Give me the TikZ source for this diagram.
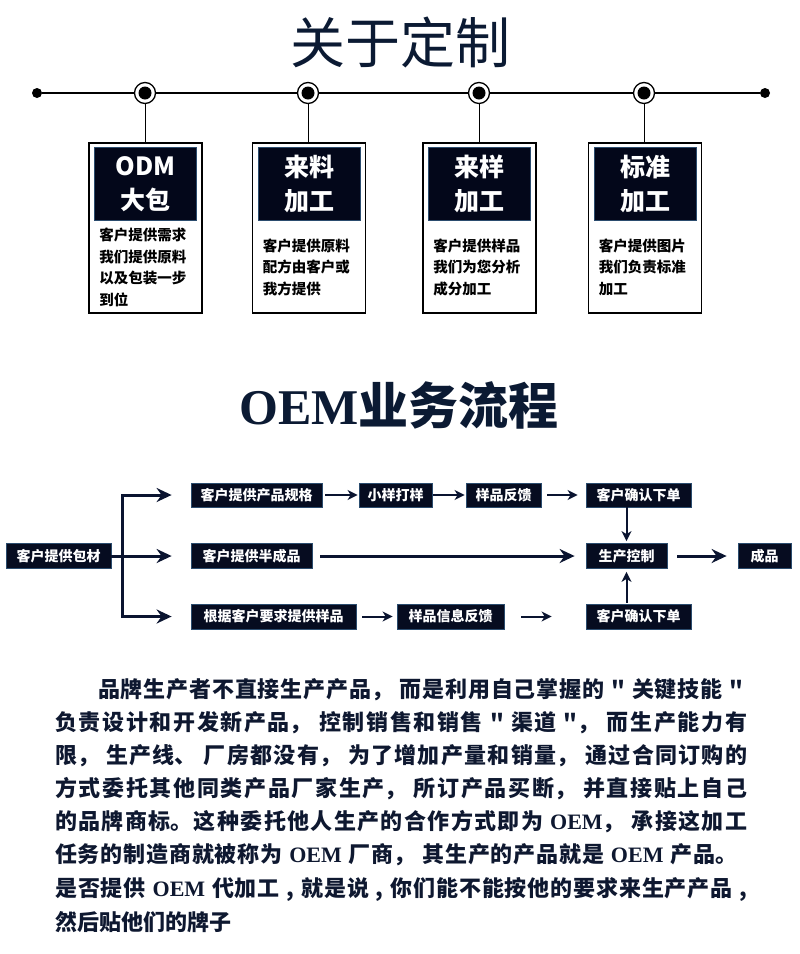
\documentclass[tikz,border=0pt]{standalone}
\usepackage{fontspec}
\setmainfont{Liberation Serif}
\newfontfamily\cjk{Noto Sans CJK SC}
\usetikzlibrary{positioning, arrows.meta, calc}

\definecolor{titlenavy}{HTML}{0B1A33}
\definecolor{headnavy}{HTML}{03071A}
\definecolor{boxnavy}{HTML}{060C20}
\definecolor{boxedge}{HTML}{2B4C6E}
\definecolor{arrownavy}{HTML}{0A1430}
\definecolor{textnavy}{HTML}{0E1830}

% stretchable glue between CJK characters
\XeTeXlinebreaklocale "zh"
\XeTeXlinebreakskip = 0pt plus 3pt minus 0.5pt

\newcommand{\oemword}{{\rmfamily\bfseries OEM}}
% one fully justified line of the paragraph
\newcommand{\justline}[1]{\noindent\parfillskip=0pt
    \spaceskip=0.3em plus 1pt minus 1pt\relax #1\par}

\begin{document}
\begin{tikzpicture}[x=1pt, y=-1pt,
    tlend/.style={circle, fill=black, minimum size=10pt, inner sep=0pt},
    ring/.style={circle, draw=black, line width=1.3pt, fill=white, minimum size=21pt, inner sep=0pt,
        path picture={\fill[black] (path picture bounding box.center) circle (6.5pt);}},
    card/.style={draw=black, line width=1.8pt, fill=white, minimum width=113pt, minimum height=170pt, inner sep=0pt},
    cardhead/.style={fill=headnavy, draw=boxedge, line width=0.6pt, minimum width=102pt, minimum height=73pt,
        inner sep=0pt, text=white, align=center, font=\cjk\bfseries\fontsize{25}{34}\selectfont},
    carddesc/.style={anchor=west, inner sep=0pt, align=left, text=black, font=\cjk\bfseries\fontsize{14.5}{21.5}\selectfont},
    flowbox/.style={fill=boxnavy, draw=boxedge, line width=0.8pt, text=white, minimum height=25pt, inner sep=0pt,
        font=\cjk\bfseries\fontsize{14}{14}\selectfont},
    bigarrow/.style={-{Stealth[length=15pt, width=14pt, inset=5pt]}, line width=3pt, draw=arrownavy},
    smallarrow/.style={-{Stealth[length=10pt, width=10pt, inset=3pt]}, line width=2pt, draw=arrownavy},
    paraline/.style={anchor=west, inner sep=0pt, text=textnavy, text width=692pt, align=justify,
        font=\cjk\bfseries\fontsize{22}{22}\selectfont}
]
    % Page
    \path[use as bounding box, fill=white] (0,0) rectangle (800,954);

    % Title
    \node[font=\cjk\fontsize{55}{55}\selectfont, text=titlenavy] (title) at (400,42) {关于定制};

    % Timeline
    \node[tlend] (tl-l) at (37,93) {};
    \node[tlend] (tl-r) at (765,93) {};
    \draw[line width=1.5pt] (tl-l) -- (tl-r);
    \node[ring] (r-odm) at (145,93) {};
    \node[ring] (r-liao) at (308,93) {};
    \node[ring] (r-yang) at (479,93) {};
    \node[ring] (r-std) at (644,93) {};

    % Cards
    \node[card] (odm) at (145.5,228) {};
    \node[cardhead, below=5pt of odm.north] (odm-h) {ODM\\大包};
    \node[carddesc] (odm-d) at ($(odm.south west)!0.5!(odm-h.south west)+(8,0)$)
        {客户提供需求\\我们提供原料\\以及包装一步\\到位};

    \node[card] (liao) at (309,228) {};
    \node[cardhead, below=5pt of liao.north] (liao-h) {来料\\加工};
    \node[carddesc] (liao-d) at ($(liao.south west)!0.5!(liao-h.south west)+(8,0)$)
        {客户提供原料\\配方由客户或\\我方提供};

    \node[card] (yang) at (479.5,228) {};
    \node[cardhead, below=5pt of yang.north] (yang-h) {来样\\加工};
    \node[carddesc] (yang-d) at ($(yang.south west)!0.5!(yang-h.south west)+(8,0)$)
        {客户提供样品\\我们为您分析\\成分加工};

    \node[card] (std) at (645,228) {};
    \node[cardhead, below=5pt of std.north] (std-h) {标准\\加工};
    \node[carddesc] (std-d) at ($(std.south west)!0.5!(std-h.south west)+(8,0)$)
        {客户提供图片\\我们负责标准\\加工};

    % Ring to card
    \draw[line width=0.8pt] (r-odm) -- (r-odm |- odm.north);
    \draw[line width=0.8pt] (r-liao) -- (r-liao |- liao.north);
    \draw[line width=0.8pt] (r-yang) -- (r-yang |- yang.north);
    \draw[line width=0.8pt] (r-std) -- (r-std |- std.north);

    % OEM title
    \node[font=\bfseries\fontsize{50}{50}\selectfont, text=titlenavy] (oem-title) at (399,405) {OEM{\cjk 业务流程}};

    % Flow boxes
    \node[flowbox, minimum width=105pt] (pack) at (58.5,556) {客户提供包材};
    \node[flowbox, minimum width=131pt, minimum height=24pt] (spec) at (256.5,495) {客户提供产品规格};
    \node[flowbox, minimum width=121pt] (semi) at (251.5,556) {客户提供半成品};
    \node[flowbox, minimum width=165pt] (req) at (273.5,616.5) {根据客户要求提供样品};
    \node[flowbox, minimum width=73pt, minimum height=24pt] (trial) at (395.5,495) {小样打样};
    \node[flowbox, minimum width=75pt, minimum height=24pt] (fb) at (503.5,495) {样品反馈};
    \node[flowbox, minimum width=105pt, minimum height=24pt] (confirm-a) at (638.5,495) {客户确认下单};
    \node[flowbox, minimum width=81pt] (ctrl) at (626.5,556) {生产控制};
    \node[flowbox, minimum width=53pt] (done) at (764.5,556) {成品};
    \node[flowbox, minimum width=107pt] (info) at (450.5,616.5) {样品信息反馈};
    \node[flowbox, minimum width=105pt] (confirm-b) at (638.5,616.5) {客户确认下单};

    % Fork from the packaging box
    \coordinate (fork) at (122,556);
    \draw[line width=3pt, draw=arrownavy] (pack.east) -- (fork);
    \draw[line width=3pt, draw=arrownavy, line cap=rect] (fork |- spec.west) -- (fork |- req.west);
    \draw[bigarrow, shorten >=19pt] (fork |- spec.west) -- (spec.west);
    \draw[bigarrow, shorten >=19pt] (fork) -- (semi.west);
    \draw[bigarrow, shorten >=19pt] (fork |- req.west) -- (req.west);

    % Top row
    \draw[smallarrow, shorten <=3pt, shorten >=1pt] (spec) -- (trial);
    \draw[smallarrow, shorten <=1pt, shorten >=1pt] (trial) -- (fb);
    \draw[smallarrow, shorten <=6pt, shorten >=8pt] (fb) -- (confirm-a);
    \draw[smallarrow, shorten >=2pt] (confirm-a.south -| ctrl.north) -- (ctrl.north);

    % Middle row
    \draw[bigarrow, shorten <=8pt, shorten >=11pt] (semi) -- (ctrl);
    \draw[bigarrow, shorten <=10pt, shorten >=11pt] (ctrl) -- (done);

    % Bottom row
    \draw[smallarrow, shorten <=6pt, shorten >=4pt] (req) -- (info);
    \draw[smallarrow, shorten <=17pt, shorten >=34pt] (info) -- (confirm-b);
    \draw[smallarrow, shorten <=1pt, shorten >=3pt] (confirm-b.north -| ctrl.south) -- (ctrl.south);

    % Paragraph
    \node[paraline, text width=645pt] (p1) at (98,690) {\justline{品牌生产者不直接生产产品， 而是利用自己掌握的 " 关键技能 "}};
    \node[paraline] (p2) at (55,723) {\justline{负责设计和开发新产品， 控制销售和销售 " 渠道 "， 而生产能力有}};
    \node[paraline] (p3) at (55,756) {\justline{限， 生产线、 厂房都没有， 为了增加产量和销量， 通过合同订购的}};
    \node[paraline] (p4) at (55,789) {\justline{方式委托其他同类产品厂家生产， 所订产品买断， 并直接贴上自己}};
    \node[paraline] (p5) at (55,822) {\justline{的品牌商标。这种委托他人生产的合作方式即为 \oemword， 承接这加工}};
    \node[paraline, text width=682pt] (p6) at (55,855) {\justline{任务的制造商就被称为 \oemword{} 厂商， 其生产的产品就是 \oemword{} 产品。}};
    \node[paraline] (p7) at (55,889) {\justline{是否提供 \oemword{} 代加工 , 就是说 , 你们能不能按他的要求来生产产品 ,}};
    \node[paraline, text width=200pt, align=left] (p8) at (55,922) {然后贴他们的牌子};
\end{tikzpicture}
\end{document}
